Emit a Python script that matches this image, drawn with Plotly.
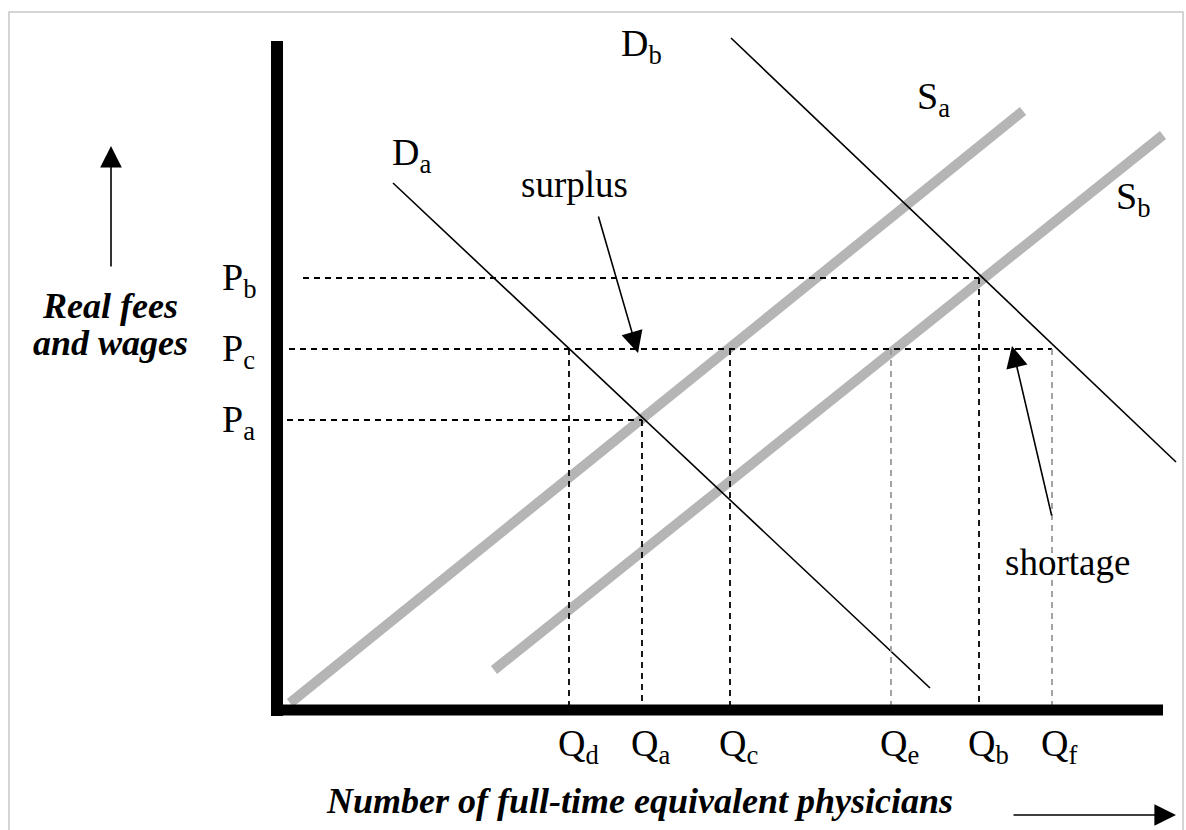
import plotly.graph_objects as go

# equilibrium quantities / prices (chart units, origin at the axis corner)
q_names = ["Q<sub>d</sub>", "Q<sub>a</sub>", "Q<sub>c</sub>", "Q<sub>e</sub>", "Q<sub>b</sub>", "Q<sub>f</sub>"]
q_values = [292, 365, 453, 614, 702, 775]
q_price = [361, 290, 361, 361, 432, 361]      # price the dashed drop-line starts from
q_grey = [False, False, False, True, False, True]

p_names = ["P<sub>b</sub>", "P<sub>c</sub>", "P<sub>a</sub>"]
p_values = [432, 361, 290]
p_until = [702, 775, 365]                     # quantity where the dashed price line ends
p_start = [26, 12, 10]

# demand curves (thin black) and supply curves (thick grey), as endpoints
demand_names = ["D<sub>a</sub>", "D<sub>b</sub>"]
demand_q = [[116, 653], [454, 899]]
demand_p = [[527, 22], [672, 248]]

supply_names = ["S<sub>a</sub>", "S<sub>b</sub>"]
supply_q = [[13, 746], [217, 886]]
supply_p = [[7, 599], [40, 575]]

FONT = "Liberation Serif, Times New Roman, serif"
GREY = "#b5b5b5"
DASH = "6px,5px"

fig = go.Figure()

# supply curves
for q, p in zip(supply_q, supply_p):
    fig.add_trace(go.Scatter(x=q, y=p, mode="lines",
                             line=dict(color=GREY, width=10)))

# demand curves
for q, p in zip(demand_q, demand_p):
    fig.add_trace(go.Scatter(x=q, y=p, mode="lines",
                             line=dict(color="black", width=1.6)))

# dashed price lines
for pv, qe, qs in zip(p_values, p_until, p_start):
    fig.add_trace(go.Scatter(x=[qs, qe], y=[pv, pv], mode="lines",
                             line=dict(color="black", width=1.8, dash=DASH)))

# dashed quantity drop-lines
for qv, pv, g in zip(q_values, q_price, q_grey):
    fig.add_trace(go.Scatter(x=[qv, qv], y=[pv, 5], mode="lines",
                             line=dict(color="#9a9a9a" if g else "black",
                                       width=1.8, dash=DASH)))

# axes (thick black)
fig.add_trace(go.Scatter(x=[0, 0], y=[-6, 669], mode="lines",
                         line=dict(color="black", width=12)))
fig.add_trace(go.Scatter(x=[-6, 886], y=[0, 0], mode="lines",
                         line=dict(color="black", width=11)))

ann = []


def label(text, x, y, size=38, xanchor="left", yanchor="middle"):
    ann.append(dict(text=text, x=x, y=y, xref="x", yref="y", showarrow=False,
                    xanchor=xanchor, yanchor=yanchor,
                    font=dict(family=FONT, size=size, color="black")))


for name, qv in zip(q_names, q_values):
    label(name, qv - 13, -36)
for name, pv in zip(p_names, p_values):
    label(name, -57, pv - 2)

label(demand_names[0], 113, 555)
label(demand_names[1], 342, 664)
label(supply_names[0], 638, 611)
label(supply_names[1], 837, 511)
label("surplus", 242, 526, size=37)
label("shortage", 726, 148, size=37)
label("<b><i>Real fees</i></b>", -167, 404, size=36, xanchor="center")
label("<b><i>and wages</i></b>", -167, 367, size=36, xanchor="center")
label("<b><i>Number of full-time equivalent physicians</i></b>", 47, -91, size=36)

# pointer arrows
arrow = dict(xref="x", yref="y", axref="x", ayref="y", text="", showarrow=True,
             arrowhead=2, arrowwidth=1.6, arrowcolor="black", arrowsize=2.7)
ann.append(dict(arrow, x=361, y=357, ax=321, ay=495))
ann.append(dict(arrow, x=735, y=364, ax=775, ay=193))
# axis direction arrows
ann.append(dict(arrow, x=-166, y=564, ax=-166, ay=442))
ann.append(dict(arrow, x=899, y=-105, ax=735, ay=-105))

fig.update_layout(
    width=1186,
    height=830,
    margin=dict(l=0, r=0, t=0, b=0),
    paper_bgcolor="white",
    plot_bgcolor="white",
    showlegend=False,
    annotations=ann,
    xaxis=dict(range=[-277, 909], visible=False, fixedrange=True),
    yaxis=dict(range=[-120, 710], visible=False, fixedrange=True),
    shapes=[dict(type="rect", xref="x", yref="y", x0=-268, x1=906, y0=-140, y1=698,
                 line=dict(color="#c8c8c8", width=1.5))],
)

fig.write_html("out.html", config={"displayModeBar": False},
               post_script="document.body.style.margin='0';")
